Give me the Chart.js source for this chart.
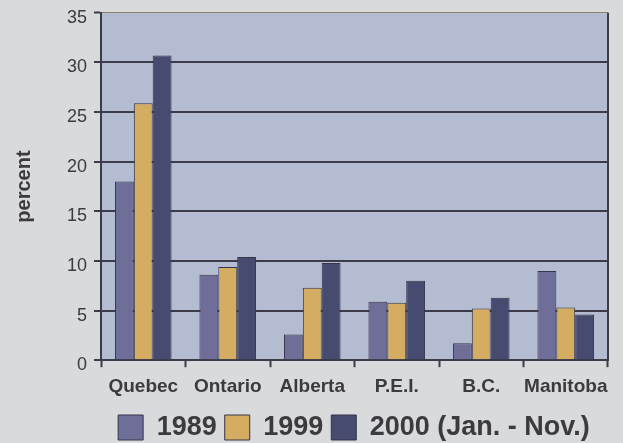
<!DOCTYPE html>
<html>
<head>
<meta charset="utf-8">
<script src="https://cdn.jsdelivr.net/npm/chart.js@4"></script>
<style>
  html, body { margin: 0; padding: 0; background: #d9dadb; }
  #wrap { width: 623px; height: 443px; }
</style>
</head>
<body>
<div id="wrap"><canvas id="chart" width="623" height="443"></canvas></div>
<script>
const provinces = ['Quebec', 'Ontario', 'Alberta', 'P.E.I.', 'B.C.', 'Manitoba'];
const values1989 = [18.0, 8.6, 2.6, 5.9, 1.7, 9.0];
const values1999 = [25.9, 9.4, 7.3, 5.8, 5.2, 5.3];
const values2000 = [30.7, 10.4, 9.8, 8.0, 6.3, 4.6];
const seriesNames = ['1989', '1999', '2000 (Jan. - Nov.)'];
const yTicks = [0, 5, 10, 15, 20, 25, 30, 35];

const textColor = '#3a3a3f';
const fontFamily = '"Liberation Sans", Arial, Helvetica, sans-serif';

// plot background + right frame line
const plotBackground = {
    id: 'plotBackground',
    beforeDraw(chart) {
        const { ctx, chartArea: a } = chart;
        ctx.save();
        ctx.fillStyle = '#b4bcd1';
        ctx.fillRect(a.left, a.top, a.right - a.left, a.bottom - a.top);
        ctx.restore();
    },
    afterDraw(chart) {
        const { ctx, chartArea: a } = chart;
        ctx.save();
        ctx.strokeStyle = '#3b3c48';
        ctx.lineWidth = 2;
        ctx.beginPath();
        ctx.moveTo(a.right, a.top);
        ctx.lineTo(a.right, a.bottom);
        ctx.stroke();
        ctx.restore();
    }
};

// the legend sits a bit right of centre in the original
const legendShift = {
    id: 'legendShift',
    afterLayout(chart) {
        chart.legend.left += 44;
        chart.legend.right += 44;
    }
};

const barStyle = {
    borderColor: '#34354a',
    borderWidth: 1,
    barPercentage: 1.0,
    categoryPercentage: 0.67
};

new Chart(document.getElementById('chart'), {
    type: 'bar',
    data: {
        labels: provinces,
        datasets: [
            { label: seriesNames[0], data: values1989, backgroundColor: '#6f6e98', ...barStyle },
            { label: seriesNames[1], data: values1999, backgroundColor: '#d5ad62', ...barStyle },
            { label: seriesNames[2], data: values2000, backgroundColor: '#464b6f', ...barStyle }
        ]
    },
    options: {
        responsive: false,
        animation: false,
        layout: { padding: { top: 5, right: 15, left: 12, bottom: -8 } },
        scales: {
            y: {
                min: 0,
                max: 35,
                afterBuildTicks: axis => { axis.ticks = yTicks.map(v => ({ value: v })); },
                title: {
                    display: true,
                    text: 'percent',
                    color: textColor,
                    font: { family: fontFamily, size: 20, weight: 'bold' },
                    padding: { top: 0, bottom: 24 }
                },
                ticks: {
                    color: textColor,
                    font: { family: fontFamily, size: 18, lineHeight: 0.65 },
                    padding: 7,
                    labelOffset: 5
                },
                grid: {
                    color: ctx => ctx.tick && ctx.tick.value === 35 ? '#8d8666' : '#3b3c48',
                    lineWidth: ctx => ctx.tick && ctx.tick.value === 35 ? 1 : 2,
                    tickLength: 7,
                    tickColor: '#3b3c48',
                    tickWidth: 2
                },
                border: { color: '#3b3c48', width: 2 }
            },
            x: {
                ticks: {
                    color: textColor,
                    font: { family: fontFamily, size: 19, weight: 'bold' },
                    padding: 8,
                    maxRotation: 0,
                    minRotation: 0,
                    autoSkip: false
                },
                grid: {
                    offset: true,
                    drawOnChartArea: false,
                    tickLength: 7,
                    tickColor: '#3b3c48',
                    tickWidth: 2
                },
                border: { color: '#3b3c48', width: 2 }
            }
        },
        plugins: {
            legend: {
                position: 'bottom',
                labels: {
                    color: textColor,
                    font: { family: fontFamily, size: 27, weight: 'bold' },
                    boxWidth: 25,
                    boxHeight: 25,
                    padding: 8
                }
            },
            tooltip: { enabled: false }
        }
    },
    plugins: [plotBackground, legendShift]
});
</script>
</body>
</html>
